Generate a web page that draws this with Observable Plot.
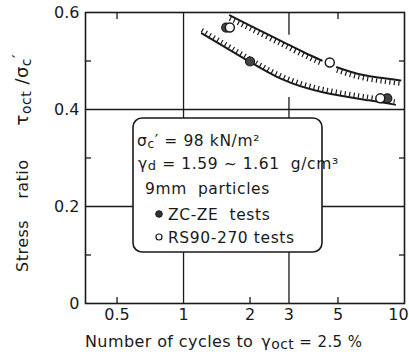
<!DOCTYPE html>
<html>
<head>
<meta charset="utf-8">
<script src="https://cdn.jsdelivr.net/npm/d3@7"></script>
<script src="https://cdn.jsdelivr.net/npm/@observablehq/plot@0.6"></script>
<style>
  body { margin: 0; background: #fff; }
  svg { font-family: "DejaVu Sans", sans-serif; }
</style>
</head>
<body>
<div id="chart"></div>
<script>
// ---- data ----
const xTicks = [0.5, 1, 2, 3, 5];
const xLastTick = [10];
const yTicks = [0, 0.2, 0.4, 0.6];
const xMinorBottom = [0.5, 2, 5];
const xMinorTop = [0.5, 5];
const yMinorTicks = [0.1, 0.3, 0.5];
// vertical grid lines (the one at 3 is broken where the curves cross it)
const xGridAt = [1, 3, 3];
const xGridFrom = [0, 0, 0.553];
const xGridTo = [0.6, 0.425, 0.6];
const yGrid = [0.2, 0.4];

// ZC-ZE tests (filled circles)
const zcX = [1.56, 2.0, 8.36];
const zcY = [0.569, 0.499, 0.423];
// RS90-270 tests (open circles)
const rsX = [1.62, 4.59, 7.77];
const rsY = [0.569, 0.497, 0.423];

// upper boundary curve (broken around the open circle), hatched below
const upperSeg = ["a", "a", "a", "a", "a", "b", "b", "b"];
const upperX = [1.62, 2.0, 2.77, 3.5, 4.22, 4.94, 6.5, 9.59];
const upperY = [0.594, 0.573, 0.541, 0.518, 0.501, 0.487, 0.471, 0.460];
// lower boundary curve, hatched above
const lowerX = [1.21, 1.95, 2.77, 4.22, 6.90, 9.07];
const lowerY = [0.557, 0.501, 0.463, 0.436, 0.419, 0.410];

const upper = upperX.map((x, i) => ({x, y: upperY[i], s: upperSeg[i]}));
const lower = lowerX.map((x, i) => ({x, y: lowerY[i]}));
const zc = zcX.map((x, i) => ({x, y: zcY[i]}));
const rs = rsX.map((x, i) => ({x, y: rsY[i]}));
const xGrid = xGridAt.map((x, i) => ({x, y1: xGridFrom[i], y2: xGridTo[i]}));

const ink = "#1a1a1a";
const minorTick = {tickSize: 6, tickFormat: () => "", label: null, stroke: ink, strokeWidth: 1.3};

const plot = Plot.plot({
  width: 409,
  height: 358,
  marginLeft: 85,
  marginRight: 5,
  marginTop: 12,
  marginBottom: 55,
  style: {fontSize: "16px", fontFamily: "DejaVu Sans, sans-serif", color: ink, background: "white"},
  x: {type: "log", domain: [0.36, 10], label: null},
  y: {domain: [0, 0.6], label: null},
  marks: [
    // grid lines
    Plot.ruleX(xGrid, {x: "x", y1: "y1", y2: "y2", stroke: ink, strokeWidth: 1.3}),
    Plot.ruleY(yGrid, {stroke: ink, strokeWidth: 1.3}),
    // inward minor ticks
    Plot.axisX(xMinorBottom, {anchor: "bottom", dy: -6, ...minorTick}),
    Plot.axisX(xMinorTop, {anchor: "top", dy: 6, ...minorTick}),
    Plot.axisY(yMinorTicks, {anchor: "left", dx: 6, ...minorTick}),
    Plot.axisY(yMinorTicks, {anchor: "right", dx: -6, ...minorTick}),
    // tick labels
    Plot.text(xTicks, {x: d => d, frameAnchor: "bottom", dy: 16, text: d => String(d), fill: ink, fontSize: 16}),
    Plot.text(xLastTick, {x: d => d, frameAnchor: "bottom", dy: 16, dx: -6, text: d => String(d), fill: ink, fontSize: 16}),
    Plot.text(yTicks, {y: d => d, frameAnchor: "left", dx: -6, textAnchor: "end", text: d => d === 0 ? "0" : d.toFixed(1), fill: ink, fontSize: 16}),
    // hatching (short strokes offset from each curve)
    Plot.line(upper, {x: "x", y: "y", z: "s", curve: "natural", stroke: ink, strokeWidth: 4.5, strokeLinecap: "butt", strokeDasharray: "1.2,3.3", dy: 3.2}),
    Plot.line(lower, {x: "x", y: "y", curve: "natural", stroke: ink, strokeWidth: 4.5, strokeLinecap: "butt", strokeDasharray: "1.2,3.3", dy: -3.2}),
    // boundary curves
    Plot.line(upper, {x: "x", y: "y", z: "s", curve: "natural", stroke: ink, strokeWidth: 2}),
    Plot.line(lower, {x: "x", y: "y", curve: "natural", stroke: ink, strokeWidth: 2}),
    // test points
    Plot.dot(zc, {x: "x", y: "y", r: 4.5, fill: "#444", stroke: ink, strokeWidth: 1.2}),
    Plot.dot(rs, {x: "x", y: "y", r: 4.5, fill: "white", stroke: ink, strokeWidth: 1.5}),
    Plot.frame({stroke: ink, strokeWidth: 1.6})
  ]
});

document.getElementById("chart").appendChild(plot);

const svg = d3.select(plot);

// y-axis title (reads bottom to top)
const yt = svg.append("text")
  .attr("transform", "translate(28,272) rotate(-90)")
  .attr("text-anchor", "start")
  .attr("fill", ink)
  .attr("font-size", 16)
  .attr("letter-spacing", 0.5);
yt.append("tspan").text("Stress");
yt.append("tspan").attr("dx", 21).text("ratio");
yt.append("tspan").attr("dx", 34).attr("font-size", 18).text("τ");
yt.append("tspan").attr("font-size", 14).attr("dy", 3).text("oct");
yt.append("tspan").attr("dy", -3).attr("font-size", 18).text(" /σ");
yt.append("tspan").attr("font-size", 14).attr("dy", 3).text("c");
yt.append("tspan").attr("dy", -7).attr("font-size", 16).text("′");

// x-axis title
const xt = svg.append("text")
  .attr("x", 85).attr("y", 347)
  .attr("text-anchor", "start")
  .attr("fill", ink)
  .attr("font-size", 16)
  .attr("letter-spacing", 0.4);
xt.append("tspan").text("Number of cycles to");
xt.append("tspan").attr("dx", 8).text("γ");
xt.append("tspan").attr("font-size", 14).attr("dy", 2).text("oct");
xt.append("tspan").attr("dy", -2).attr("font-size", 15).text(" = 2.5 %");

// annotation / legend box
const g = svg.append("g").attr("text-anchor", "start");
g.append("rect")
  .attr("x", 133).attr("y", 118).attr("width", 189).attr("height", 134)
  .attr("rx", 9).attr("fill", "white").attr("stroke", ink).attr("stroke-width", 1.6);

const line = (x, y) => g.append("text").attr("x", x).attr("y", y)
  .attr("text-anchor", "start")
  .attr("fill", ink).attr("font-size", 15.5).attr("letter-spacing", 0.6);

const l1 = line(137, 146);
l1.append("tspan").text("σ");
l1.append("tspan").attr("font-size", 12).attr("dy", 2).text("c");
l1.append("tspan").attr("dy", -2).text("′ = 98 kN/m²");

const l2 = line(138, 169);
l2.append("tspan").text("γ");
l2.append("tspan").attr("font-size", 13).attr("dy", 1).text("d");
l2.append("tspan").attr("dy", -1).text(" = 1.59 ~ 1.61  g/cm³");

line(145, 194).text("9mm  particles");
line(168, 220).text("ZC-ZE  tests");
line(168, 243).text("RS90-270 tests");

g.append("circle").attr("cx", 159).attr("cy", 214).attr("r", 3.3).attr("fill", "#333").attr("stroke", ink);
g.append("circle").attr("cx", 159).attr("cy", 237).attr("r", 3).attr("fill", "white").attr("stroke", ink).attr("stroke-width", 1.2);
</script>
</body>
</html>
